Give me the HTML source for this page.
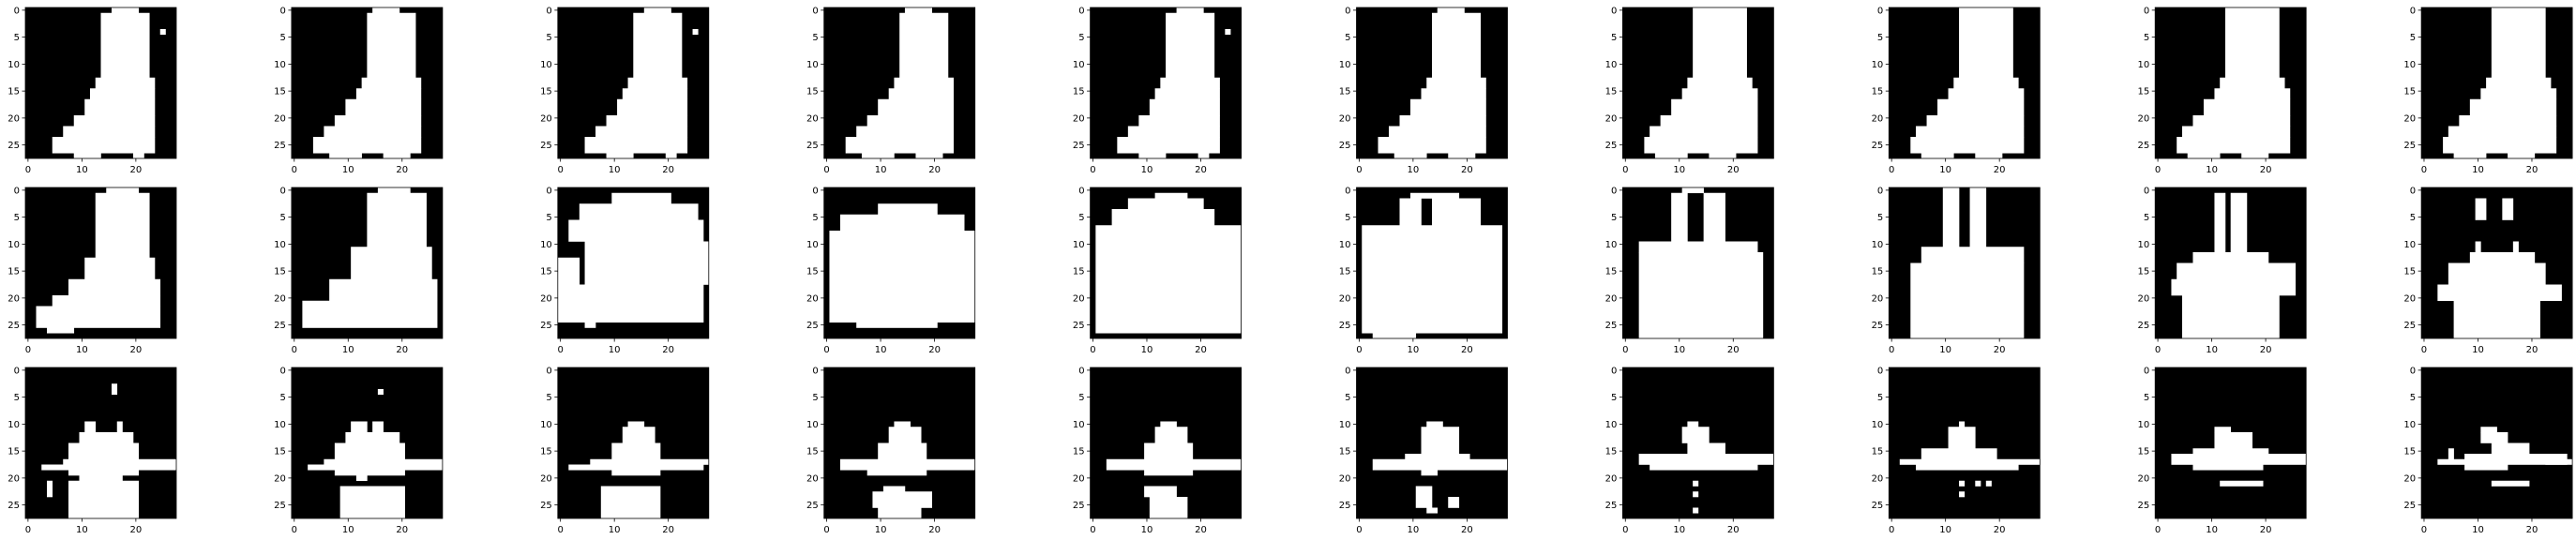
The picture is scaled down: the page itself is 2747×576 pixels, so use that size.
<!DOCTYPE html>
<html><head><meta charset="utf-8"><style>
html,body{margin:0;padding:0;background:#fff;}
svg{display:block;font-family:"DejaVu Sans","Liberation Sans",sans-serif;}
</style></head><body>
<svg id="fig" width="2747" height="576" viewBox="0 0 2747 576" xmlns="http://www.w3.org/2000/svg"></svg>
<script>
// Each image: list of white rectangles [rowStart,rowEnd,colStart,colEnd] (inclusive) on a 28x28 grid
const boot = [[1,12,14,22],[0,0,16,20],[13,14,13,23],[15,16,12,23],[17,19,11,23],[20,21,9,23],[22,23,7,23],[24,26,5,23],[27,27,9,13],[27,27,20,21],[4,4,25,25]];
const bootB = [[1,12,14,22],[0,0,15,19],[13,14,13,23],[15,16,12,23],[17,19,10,23],[20,21,8,23],[22,23,6,23],[24,26,4,23],[27,27,7,12],[27,27,17,21]];
const bootC = [[0,12,13,22],[13,14,12,23],[15,16,11,24],[17,19,9,24],[20,21,7,24],[22,23,5,24],[24,26,4,24],[27,27,6,11],[27,27,16,20]];
const row1 = [boot,bootB,boot,bootB,boot,bootB,bootC,bootC,bootC,bootC];
const row2 = [
 [[1,12,13,22],[0,0,15,20],[13,16,11,23],[17,19,8,24],[20,21,5,24],[22,25,2,24],[26,26,4,8]],
 [[1,10,14,24],[0,0,16,21],[11,16,11,25],[17,20,7,26],[21,25,2,26]],
 [[1,2,10,20],[3,5,4,25],[6,9,2,26],[10,17,5,27],[13,17,0,3],[18,24,0,26],[25,25,5,6]],
 [[3,4,10,20],[5,7,3,25],[8,24,1,27],[25,25,6,20]],
 [[1,1,12,17],[2,3,7,20],[4,6,4,22],[7,26,1,27]],
 [[1,1,10,18],[2,6,8,11],[2,6,14,22],[7,26,1,26],[27,27,3,10]],
 [[0,0,11,14],[1,9,9,11],[1,9,15,18],[10,11,3,24],[12,27,3,25]],
 [[0,10,10,12],[0,10,15,17],[11,13,6,24],[14,27,4,24]],
 [[1,11,11,12],[1,11,14,16],[12,13,7,20],[14,16,4,25],[17,19,3,25],[20,27,5,22]],
 [[2,5,10,11],[2,5,15,16],[10,11,10,10],[10,11,17,17],[12,13,9,20],[14,17,5,22],[18,20,3,25],[21,27,6,21]]
];
const row3 = [
 [[3,4,16,16],[10,11,11,12],[10,11,17,17],[12,13,10,19],[14,16,8,20],[17,17,7,27],[18,18,3,27],[19,19,8,20],[20,20,10,17],[21,27,8,20],[21,23,4,4]],
 [[4,4,16,16],[10,11,11,13],[10,11,15,16],[12,13,10,19],[14,16,8,20],[17,17,6,27],[18,18,3,27],[19,19,8,20],[20,20,12,13],[22,27,9,20]],
 [[10,10,13,15],[11,13,12,17],[14,16,10,18],[17,17,6,27],[18,18,2,26],[19,19,10,18],[22,27,8,18]],
 [[10,10,13,15],[11,13,12,17],[14,16,10,18],[17,18,3,27],[19,19,8,18],[22,22,11,14],[23,25,9,19],[26,27,10,17]],
 [[10,10,13,15],[11,13,12,17],[14,16,10,18],[17,18,3,27],[19,19,10,18],[22,23,10,15],[24,27,11,17]],
 [[10,10,13,15],[11,15,12,18],[16,16,9,20],[17,18,3,27],[19,19,12,14],[22,25,11,13],[24,25,17,18],[26,26,13,14]],
 [[10,10,12,13],[11,13,11,15],[14,15,12,18],[16,17,3,27],[18,18,5,24],[21,21,13,13],[23,23,13,13],[26,26,13,13]],
 [[10,10,13,13],[11,14,11,15],[15,16,6,19],[17,17,2,27],[18,18,5,23],[21,21,13,13],[23,23,13,13],[21,21,16,16],[21,21,18,18]],
 [[11,11,11,13],[12,14,11,17],[15,16,7,20],[16,17,3,27],[18,18,7,19],[21,21,12,19]],
 [[11,11,11,13],[12,13,11,15],[14,15,13,19],[16,16,8,22],[16,17,23,26],[17,17,3,27],[18,18,8,15],[15,16,5,5],[21,21,13,19]]
];
const rows = [row1,row2,row3];
const yTicks = [0,5,10,15,20,25];
const xTicks = [0,10,20];

const NS='http://www.w3.org/2000/svg';
const svg=document.getElementById('fig');
const AX=161, N=28, cell=AX/N;
function axLeft(c){return 27+c*283.9;}
function axTop(r){return 8+r*192;}
function mk(tag,attrs,parent){const e=document.createElementNS(NS,tag);for(const k in attrs)e.setAttribute(k,attrs[k]);(parent||svg).appendChild(e);return e;}

rows.forEach((row,r)=>{
  row.forEach((img,c)=>{
    const x0=axLeft(c), y0=axTop(r);
    const g=mk('g',{});
    
    
    const bg=mk('rect',{x:x0,y:y0,width:AX,height:AX,fill:'#000'},g);
    
    
    img.forEach(p=>{
      const px=mk('rect',{x:x0+p[2]*cell,y:y0+p[0]*cell,width:(p[3]-p[2]+1)*cell+0.3,height:(p[1]-p[0]+1)*cell+0.3,fill:'#fff'},g);
      
      
    });
    const fr=mk('rect',{x:x0,y:y0,width:AX,height:AX,fill:'none',stroke:'#000','stroke-width':0.8},g);
    
    
    yTicks.forEach(t=>{
      const y=y0+(t+0.5)*cell;
      mk('line',{x1:x0-3.5,x2:x0,y1:y,y2:y,stroke:'#000','stroke-width':0.8},g);
      const tx=mk('text',{x:x0-6,y:y+3.5,'text-anchor':'end','font-size':10,fill:'#000'},g);
      tx.textContent=t;
      
      
    });
    xTicks.forEach(t=>{
      const x=x0+(t+0.5)*cell;
      mk('line',{x1:x,x2:x,y1:y0+AX,y2:y0+AX+3.5,stroke:'#000','stroke-width':0.8},g);
      const tx=mk('text',{x:x,y:y0+AX+15,'text-anchor':'middle','font-size':10,fill:'#000'},g);
      tx.textContent=t;
      
      
    });
  });
});
</script>
</body></html>
